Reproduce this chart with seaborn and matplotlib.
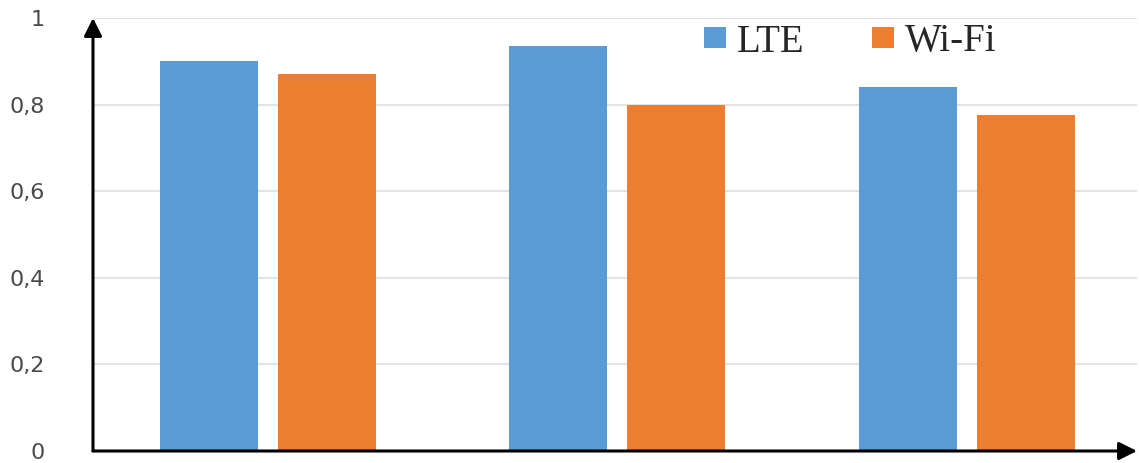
import matplotlib
matplotlib.use("Agg")
import matplotlib.pyplot as plt
import seaborn as sns
import pandas as pd
from matplotlib.patches import Patch

# Data
groups = ["A", "B", "C"]
series = ["LTE", "Wi-Fi"]
lte_values = [0.90, 0.935, 0.84]
wifi_values = [0.87, 0.80, 0.775]
y_ticks = [0, 0.2, 0.4, 0.6, 0.8, 1.0]
y_tick_labels = ["0", "0,2", "0,4", "0,6", "0,8", "1"]
colors = {"LTE": "#5B9BD5", "Wi-Fi": "#ED7D31"}

df = pd.DataFrame({
    "group": groups * 2,
    "series": ["LTE"] * len(groups) + ["Wi-Fi"] * len(groups),
    "value": lte_values + wifi_values,
})

sns.set_theme(style="white")
plt.rcParams["font.family"] = ["DejaVu Sans"]

W, H = 1139, 463
fig = plt.figure(figsize=(W / 100, H / 100), dpi=100)
ax = fig.add_axes([93 / W, 12 / H, 1044 / W, 433 / H])

sns.barplot(data=df, x="group", y="value", hue="series", palette=colors,
            width=0.674, gap=0.17, ax=ax, legend=False, linewidth=0,
            saturation=1, zorder=3)

ax.set_xlim(-0.5, 2.487)
ax.set_ylim(0, 1.0)
ax.set_yticks(y_ticks)
ax.set_yticklabels(y_tick_labels, fontsize=16, color="#4a4a4a")
ax.set_xticks([])
ax.set_xlabel("")
ax.set_ylabel("")
ax.tick_params(axis="y", length=0, pad=35)

ax.grid(axis="y", color="#e3e3e3", linewidth=1.5, zorder=0)
ax.grid(axis="x", visible=False)
for s in ax.spines.values():
    s.set_visible(False)

# Axis arrows
arrow = dict(arrowstyle="-|>,head_length=0.9,head_width=0.45", color="black",
             lw=2.2, shrinkA=0, shrinkB=0)
ax.annotate("", xy=(0, 1.0), xytext=(0, 0), xycoords="axes fraction",
            arrowprops=arrow, annotation_clip=False, zorder=5)
ax.annotate("", xy=(1.0, 0), xytext=(0, 0), xycoords="axes fraction",
            arrowprops=arrow, annotation_clip=False, zorder=5)

handles = [Patch(facecolor=colors[s], edgecolor="none", label=s) for s in series]
fig.legend(handles=handles, loc="center left", bbox_to_anchor=(677 / W, 1 - 42 / H),
           ncol=2, frameon=False, handlelength=0.55, handleheight=0.45,
           handletextpad=0.28, columnspacing=1.75, borderpad=0.2,
           prop={"family": "Liberation Serif", "size": 28}, labelcolor="#262626")

fig.savefig("out.png", dpi=100)
